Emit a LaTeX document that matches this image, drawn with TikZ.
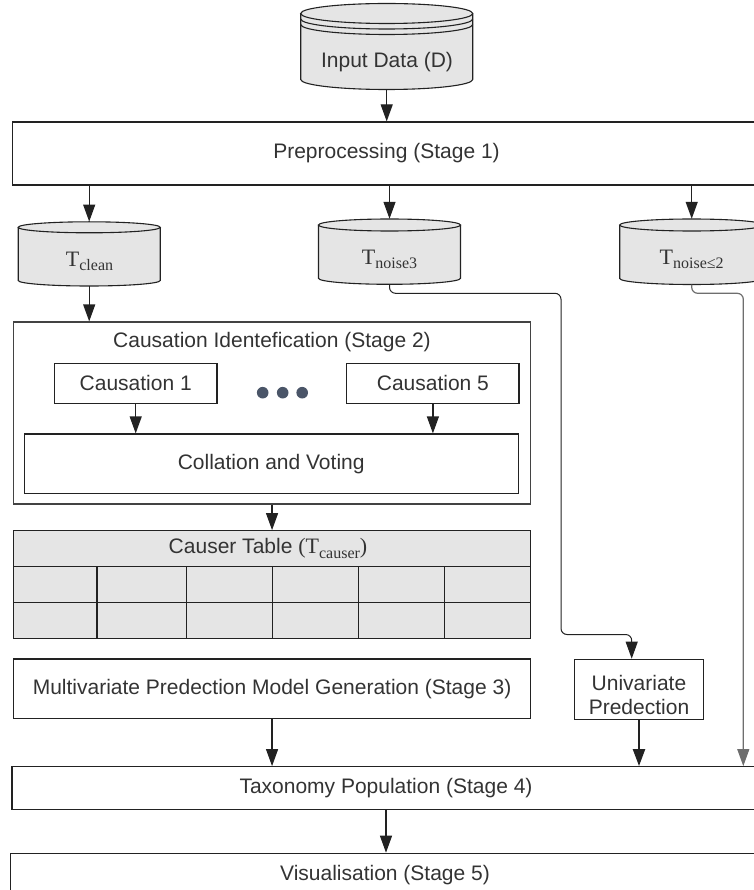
\documentclass[tikz,border=0pt]{standalone}
\usepackage{fontspec}
\newfontfamily\sansf{Liberation Sans}
\newfontfamily\seriff{Liberation Serif}
\usetikzlibrary{arrows.meta}
\definecolor{textc}{HTML}{333333}
\definecolor{linec}{HTML}{222222}
\definecolor{grayline}{HTML}{6E6E6E}
\definecolor{cylfillc}{HTML}{E5E5E5}
\definecolor{dotc}{HTML}{4A5568}
\newcommand\fsz{\fontsize{21}{24}\selectfont}
\newcommand\Tsub[1]{{\seriff\fontsize{22}{24}\selectfont T\raisebox{-4.5pt}{\fontsize{16}{18}\selectfont #1}}}
\newcommand\drawcyl[5]{%
  \fill[cylfillc] ({#1-#3},#2) -- ({#1-#3},#4) arc[start angle=180,end angle=360,x radius=#3pt,y radius=#5pt] -- ({#1+#3},#2) -- cycle;
  \draw[cylline] ({#1-#3},#2) -- ({#1-#3},#4) arc[start angle=180,end angle=360,x radius=#3pt,y radius=#5pt] -- ({#1+#3},#2);
  \filldraw[cylline,fill=cylfillc] (#1,#2) ellipse[x radius=#3pt,y radius=#5pt];
}
\begin{document}
\begin{tikzpicture}[x=1pt,y=-1pt,
  box/.style={draw=linec, line width=1.2pt, rectangle, inner sep=0pt, text=textc, font=\sansf\fsz},
  ghost/.style={rectangle, inner sep=0pt},
  txt/.style={text=textc, font=\sansf\fsz, inner sep=0pt},
  mtxt/.style={text=textc, inner sep=0pt},
  cylline/.style={draw=linec, line width=1.1pt},
  tip/.style={-{Triangle[length=17pt,width=12pt]}},
  arr/.style={draw=linec, line width=1.2pt, tip},
  thinarr/.style={draw=linec, line width=1pt, rounded corners=6pt, tip},
  dot/.style={circle, fill=dotc, minimum size=11.6pt, inner sep=0pt}
]
\useasboundingbox (0,0) rectangle (753,890);

% ---------- Input cylinder ----------
\drawcyl{386.7}{13.5}{86}{79.5}{10}
\draw[cylline] ({386.7-86},19) arc[start angle=180,end angle=360,x radius=86pt,y radius=10pt];
\draw[cylline] ({386.7-86},24.5) arc[start angle=180,end angle=360,x radius=86pt,y radius=10pt];
\node[ghost, minimum width=172pt, minimum height=86pt] (inp) at (386.7,46.5) {};
\node[txt] (inplab) at (387,62) {Input Data (D)};

% ---------- Preprocessing ----------
\node[box, minimum width=748pt, minimum height=63pt] (pre) at (386.5,153.5) {Preprocessing (Stage 1)};

% ---------- Cylinders ----------
\drawcyl{89.2}{227.3}{71}{280.5}{5.5}
\node[ghost, minimum width=142pt, minimum height=64.2pt] (tclean) at (89.2,253.9) {};
\node[mtxt, anchor=base] (tcleanlab) at (89.5,266) {\Tsub{clean}};

\drawcyl{389.5}{225}{71}{278.3}{6}
\node[ghost, minimum width=142pt, minimum height=65.3pt] (tn3) at (389.5,251.65) {};
\node[mtxt, anchor=base] (tn3lab) at (389.5,264.5) {\Tsub{noise3}};

\drawcyl{691.7}{225}{72}{278.5}{6}
\node[ghost, minimum width=144pt, minimum height=65.5pt] (tn2) at (691.7,251.75) {};
\node[mtxt, anchor=base] (tn2lab) at (691.7,264.5) {\Tsub{noise≤2}};

\draw[arr] (inp.south) -- (inp.south |- pre.north);
\draw[arr] (pre.south -| tclean.north) -- (tclean.north);
\draw[arr] (pre.south -| tn3.north) -- (tn3.north);
\draw[arr] (pre.south -| tn2.north) -- (tn2.north);

% ---------- Causation identification ----------
\node[box, draw=linec!85, minimum width=516.5pt, minimum height=182pt] (cid) at (272.05,413) {};
\node[txt] (cidlab) at (272,341.7) {Causation Identefication (Stage 2)};
\node[box, minimum width=162.6pt, minimum height=40pt] (c1) at (135.7,383.3) {Causation 1};
\node[box, minimum width=172.2pt, minimum height=40pt] (c5) at (432.9,383.3) {Causation 5};
\node[dot] (d1) at (262.7,392.7) {};
\node[dot] (d2) at (282.7,392.7) {};
\node[dot] (d3) at (302.2,392.7) {};
\node[box, minimum width=494.1pt, minimum height=59.3pt] (col) at (271.15,463.65) {Collation and Voting};
\draw[arr] (c1.south) -- (c1.south |- col.north);
\draw[arr] (c5.south) -- (c5.south |- col.north);
\draw[arr] (tclean.south) -- (tclean.south |- cid.north);

% ---------- Causer table ----------
\node[box, fill=cylfillc, minimum width=516.5pt, minimum height=107.6pt] (tab) at (272.05,584.5) {};
\draw[linec, line width=1.2pt] (13.8,566.7) -- (530.3,566.7);
\draw[linec, line width=1.2pt] (13.8,602.4) -- (530.3,602.4);
\foreach \cx in {96.9,186.6,272.6,358.8,444.6}
  \draw[linec, line width=1.2pt] (\cx,566.7) -- (\cx,638.3);
\node[txt] (tablab) at (268,548.7) {Causer Table {\seriff\fontsize{22}{24}\selectfont(}\Tsub{causer}{\seriff\fontsize{22}{24}\selectfont)}};
\draw[arr] (cid.south) -- (cid.south |- tab.north);

% ---------- Stage 3 / univariate ----------
\node[box, minimum width=516.5pt, minimum height=59.5pt] (mv) at (272.05,688.8) {Multivariate Predection Model Generation (Stage 3)};
\node[box, minimum width=129.4pt, minimum height=60pt] (uni) at (639,689.3) {};
\node[txt, align=center] (unilab) at (639,695) {Univariate\\Predection};

% ---------- Stage 4 / 5 ----------
\node[box, minimum width=748pt, minimum height=42.6pt] (tax) at (386,788) {Taxonomy Population (Stage 4)};
\node[box, minimum width=750pt, minimum height=47pt] (vis) at (385.6,876.8) {};
\node[txt] (vislab) at (385,875) {Visualisation (Stage 5)};

\coordinate (k1) at (561,293.3);
\coordinate (k2) at (561,634.5);
\coordinate (k3) at (743.3,293.3);
\draw[thinarr] (tn3.south) |- (k1) -- (k2) -| ([xshift=-7.3pt]uni.north);
\draw[thinarr, draw=grayline, line width=1.2pt] (tn2.south) |- (k3) -- (k3 |- tax.north);
\draw[arr] (mv.south) -- (mv.south |- tax.north);
\draw[arr, line width=2.2pt] (uni.south) -- (uni.south |- tax.north);
\draw[arr] (tax.south) -- (tax.south |- vis.north);
\end{tikzpicture}
\end{document}
